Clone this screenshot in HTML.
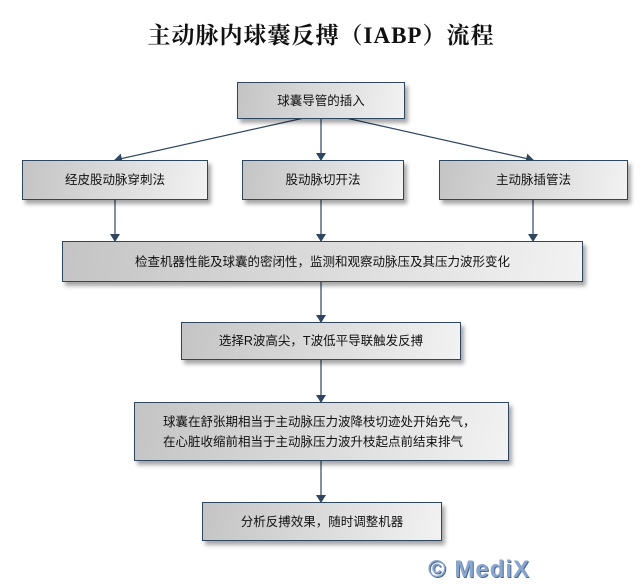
<!DOCTYPE html>
<html><head><meta charset="utf-8"><style>
body{margin:0;width:642px;height:582px;background:#fff;position:relative;overflow:hidden;font-family:"Liberation Sans","Noto Sans CJK SC",sans-serif}
.b{position:absolute;box-sizing:border-box;border:1px solid #2f4660;background:linear-gradient(100deg,#c4c4c4,#f2f2f2);box-shadow:3px 4px 4px rgba(0,0,0,.35);display:flex;align-items:center;justify-content:center;font-size:12.5px;color:#111;text-align:center;line-height:20px}
.t{position:absolute;top:17px;left:0;width:642px;text-align:center;font:bold 23px "Liberation Serif","Noto Serif CJK SC",serif;color:#111;letter-spacing:1px}
svg{position:absolute;left:0;top:0}
.w{position:absolute;left:428px;top:556px;font:bold 24px "Liberation Sans",sans-serif;color:#8aa6cc;letter-spacing:1px;text-shadow:1px 1px 0 #4a6a96}
</style></head><body>
<div class="t">主动脉内球囊反搏（IABP）流程</div>
<svg width="642" height="582">
<defs><marker id="a" markerWidth="8" markerHeight="10" refX="7" refY="5" orient="auto" markerUnits="userSpaceOnUse"><path d="M0,0 L8,5 L0,10z" fill="#2f4660"/></marker></defs>
<g stroke="#2f4660" stroke-width="1.2" fill="none" marker-end="url(#a)">
<line x1="304" y1="118" x2="115" y2="160"/>
<line x1="321" y1="118" x2="321" y2="160"/>
<line x1="346" y1="118" x2="533" y2="160"/>
<line x1="115" y1="200" x2="115" y2="241"/>
<line x1="321" y1="200" x2="321" y2="241"/>
<line x1="533" y1="200" x2="533" y2="241"/>
<line x1="321" y1="281" x2="321" y2="322"/>
<line x1="321" y1="360" x2="321" y2="402"/>
<line x1="321" y1="461" x2="321" y2="502"/>
</g></svg>
<div class="b" style="left:237px;top:82px;width:168px;height:37px">球囊导管的插入</div>
<div class="b" style="left:22px;top:160px;width:186px;height:40px">经皮股动脉穿刺法</div>
<div class="b" style="left:242px;top:160px;width:162px;height:40px">股动脉切开法</div>
<div class="b" style="left:439px;top:160px;width:189px;height:40px">主动脉插管法</div>
<div class="b" style="left:62px;top:241px;width:521px;height:41px">检查机器性能及球囊的密闭性，监测和观察动脉压及其压力波形变化</div>
<div class="b" style="left:181px;top:322px;width:280px;height:38px">选择R波高尖，T波低平导联触发反搏</div>
<div class="b" style="left:134px;top:402px;width:375px;height:59px;justify-content:flex-start;padding-left:28px;text-align:left">球囊在舒张期相当于主动脉压力波降枝切迹处开始充气，<br>在心脏收缩前相当于主动脉压力波升枝起点前结束排气</div>
<div class="b" style="left:202px;top:502px;width:240px;height:39px">分析反搏效果，随时调整机器</div>
<div class="w">© MediX</div>
</body></html>
